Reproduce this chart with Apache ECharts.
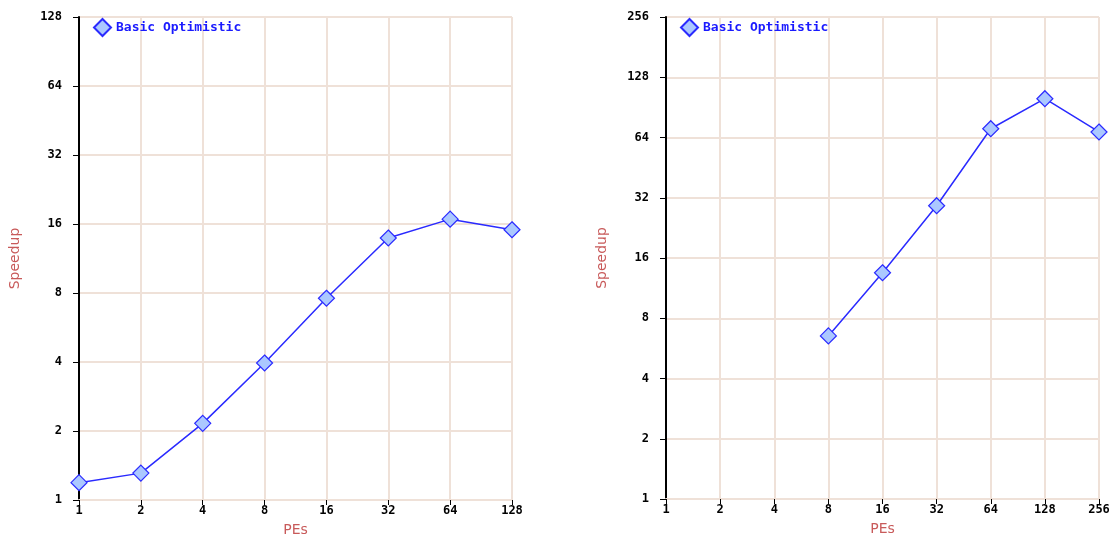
<!DOCTYPE html>
<html><head><meta charset="utf-8">
<script src="https://cdn.jsdelivr.net/npm/echarts@6/dist/echarts.min.js"></script>
<style>html,body{margin:0;padding:0;background:#fff}#c{width:1113px;height:540px}</style>
</head><body><div id="c"></div>
<script>
const seriesName = 'Basic Optimistic';
const pesLeft = [1, 2, 4, 8, 16, 32, 64, 128];
const speedupLeft = [1.19, 1.31, 2.16, 3.96, 7.59, 13.9, 16.8, 15.1];
const pesRight = [8, 16, 32, 64, 128, 256];
const speedupRight = [6.53, 13.5, 29.2, 70.8, 100, 68.2];
const xMaxLeft = 128, yMaxLeft = 128;
const xMaxRight = 256, yMaxRight = 256;

const gridColor = '#efe1d8';
const nameColor = '#c85a5a';
const monoFont = 'DejaVu Sans Mono';

function xAxis(gi, max) {
  return {
    type: 'log', logBase: 2, gridIndex: gi, min: 1, max: max, interval: 1,
    name: 'PEs', nameLocation: 'middle', nameGap: 23,
    nameTextStyle: {color: nameColor, fontFamily: 'DejaVu Sans', fontSize: 14},
    axisLine: {show: true, lineStyle: {color: gridColor, width: 2}},
    axisTick: {show: true, length: 5, lineStyle: {color: '#000', width: 1}},
    axisLabel: {color: '#000', fontFamily: monoFont, fontSize: 12, fontWeight: 'bold', margin: 5,
      formatter: v => String(Math.round(v))},
    splitLine: {show: true, lineStyle: {color: gridColor, width: 2}},
    minorTick: {show: false}
  };
}
function yAxis(gi, max) {
  return {
    type: 'log', logBase: 2, gridIndex: gi, min: 1, max: max, interval: 1,
    name: 'Speedup', nameLocation: 'middle', nameGap: 57,
    nameTextStyle: {color: nameColor, fontFamily: 'DejaVu Sans', fontSize: 14},
    axisLine: {show: true, lineStyle: {color: '#000', width: 2}},
    axisTick: {show: true, length: 6, lineStyle: {color: '#000', width: 1}},
    axisLabel: {color: '#000', fontFamily: monoFont, fontSize: 12, fontWeight: 'bold', margin: 17,
      padding: [0, 0, 5, 0], formatter: v => String(Math.round(v))},
    splitLine: {show: true, lineStyle: {color: gridColor, width: 2}}
  };
}
function series(gi, xs, ys) {
  return {
    name: seriesName, type: 'line', xAxisIndex: gi, yAxisIndex: gi,
    data: xs.map((x, i) => [x, ys[i]]),
    symbol: 'diamond', symbolSize: 16,
    lineStyle: {color: '#2a2aff', width: 1.5},
    itemStyle: {color: '#abc8ff', borderColor: '#2a2aff', borderWidth: 1.2},
    animation: false, z: 5
  };
}
function legend(left) {
  return {
    left: left, top: 13, data: [seriesName], icon: 'diamond',
    itemWidth: 17, itemHeight: 17, itemGap: 6,
    textStyle: {color: '#1a1aff', fontFamily: monoFont, fontSize: 13, fontWeight: 'bold'},
    selectedMode: false
  };
}
const chart = echarts.init(document.getElementById('c'), null, {renderer: 'canvas'});
chart.setOption({
  backgroundColor: '#fff',
  animation: false,
  legend: [legend(88), legend(675)],
  grid: [
    {left: 79, top: 17, width: 433, height: 483, containLabel: false, outerBoundsMode: 'none'},
    {left: 666, top: 17, width: 433, height: 482, containLabel: false, outerBoundsMode: 'none'}
  ],
  xAxis: [xAxis(0, xMaxLeft), xAxis(1, xMaxRight)],
  yAxis: [yAxis(0, yMaxLeft), yAxis(1, yMaxRight)],
  series: [series(0, pesLeft, speedupLeft), series(1, pesRight, speedupRight)]
});
</script></body></html>
